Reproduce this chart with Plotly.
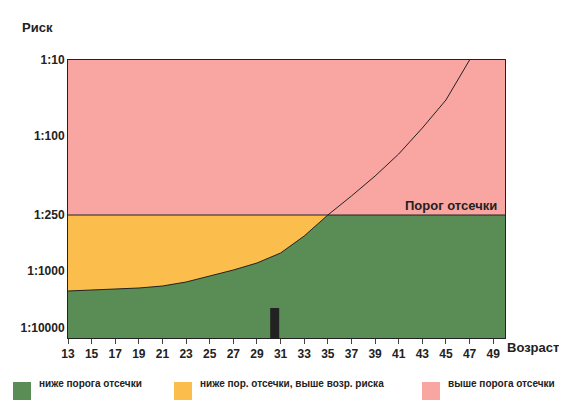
import numpy as np
import plotly.graph_objects as go

# y is in an arbitrary chart scale; tick labels map to risk levels
age = [13, 15, 17, 19, 21, 23, 25, 27, 29, 31, 33, 35, 37, 39, 41, 43, 45, 47]
risk_curve = [47, 48, 49, 50, 52, 56, 62, 68, 75, 85, 102, 123, 142, 162, 184, 210, 238, 278]
threshold = 123
tick_vals = [10, 67, 123, 202, 278]
tick_text = ["1:10000", "1:1000", "1:250", "1:100", "1:10"]
age_ticks = list(range(13, 50, 2))
patient_age = [30.5, 30.5]
patient_risk = [0, 30]

PINK, GREEN, YELLOW = "#f9a6a3", "#5a8c56", "#fbbd4c"

green_y = np.minimum(np.array(risk_curve + [risk_curve[-1]]), threshold)
green_x = age + [50]

fig = go.Figure()
fig.add_trace(go.Scatter(x=[13, 35], y=[threshold, threshold], fill="tozeroy",
                         fillcolor=YELLOW, mode="lines", line=dict(width=0)))
fig.add_trace(go.Scatter(x=green_x, y=green_y, fill="tozeroy", fillcolor=GREEN,
                         mode="lines", line=dict(width=0)))
fig.add_trace(go.Scatter(x=[13, 50], y=[threshold, threshold], mode="lines",
                         line=dict(color="#222", width=1)))
fig.add_trace(go.Scatter(x=age, y=risk_curve, mode="lines", line=dict(color="#222", width=1)))
fig.add_trace(go.Scatter(x=patient_age, y=patient_risk, mode="lines",
                         line=dict(color="#222", width=9)))

fig.update_layout(
    width=567, height=409, showlegend=False,
    margin=dict(l=60, r=70, t=52, b=79, autoexpand=False),
    plot_bgcolor=PINK, paper_bgcolor="white",
    font=dict(family="Arial", size=12, color="#222"),
)
fig.update_xaxes(range=[13, 50], tickvals=age_ticks,
                 ticktext=["<b>%d</b>" % a for a in age_ticks], ticks="outside", ticklen=5,
                 showgrid=False, zeroline=False, showline=True, linecolor="#222", mirror=True,
                 automargin=False, tickfont=dict(size=12))
fig.update_yaxes(range=[0, 278], tickvals=tick_vals, ticktext=["<b>%s</b>" % t for t in tick_text],
                 showgrid=False, zeroline=False, showline=True, linecolor="#222", mirror=True,
                 automargin=False, tickfont=dict(size=12))

fig.add_annotation(x=49.5, y=threshold, text="<b>Порог отсечки</b>", showarrow=False,
                   xanchor="right", yanchor="bottom", font=dict(size=13))
fig.add_annotation(xref="paper", yref="paper", x=-0.11, y=1.15, text="<b>Риск</b>",
                   showarrow=False, xanchor="left", font=dict(size=13))
fig.add_annotation(xref="paper", yref="paper", x=1.0, y=-0.07, text="<b>Возраст</b>",
                   showarrow=False, xanchor="left", font=dict(size=13))

legend = [(GREEN, "ниже порога отсечки", 5),
          (YELLOW, "ниже пор. отсечки, выше возр. риска", 166),
          (PINK, "выше порога отсечки", 414)]
for color, label, px in legend:
    fig.add_shape(type="rect", xref="paper", yref="paper",
                  x0=(px - 60) / 437, x1=(px - 60 + 18) / 437,
                  y0=(330 - 392) / 278, y1=(330 - 374) / 278,
                  fillcolor=color, line=dict(width=0))
    fig.add_annotation(xref="paper", yref="paper", x=(px - 60 + 24) / 437, y=(330 - 383) / 278,
                       text="<b>" + label + "</b>", showarrow=False, xanchor="left",
                       font=dict(size=10))

fig.write_html("out.html")
